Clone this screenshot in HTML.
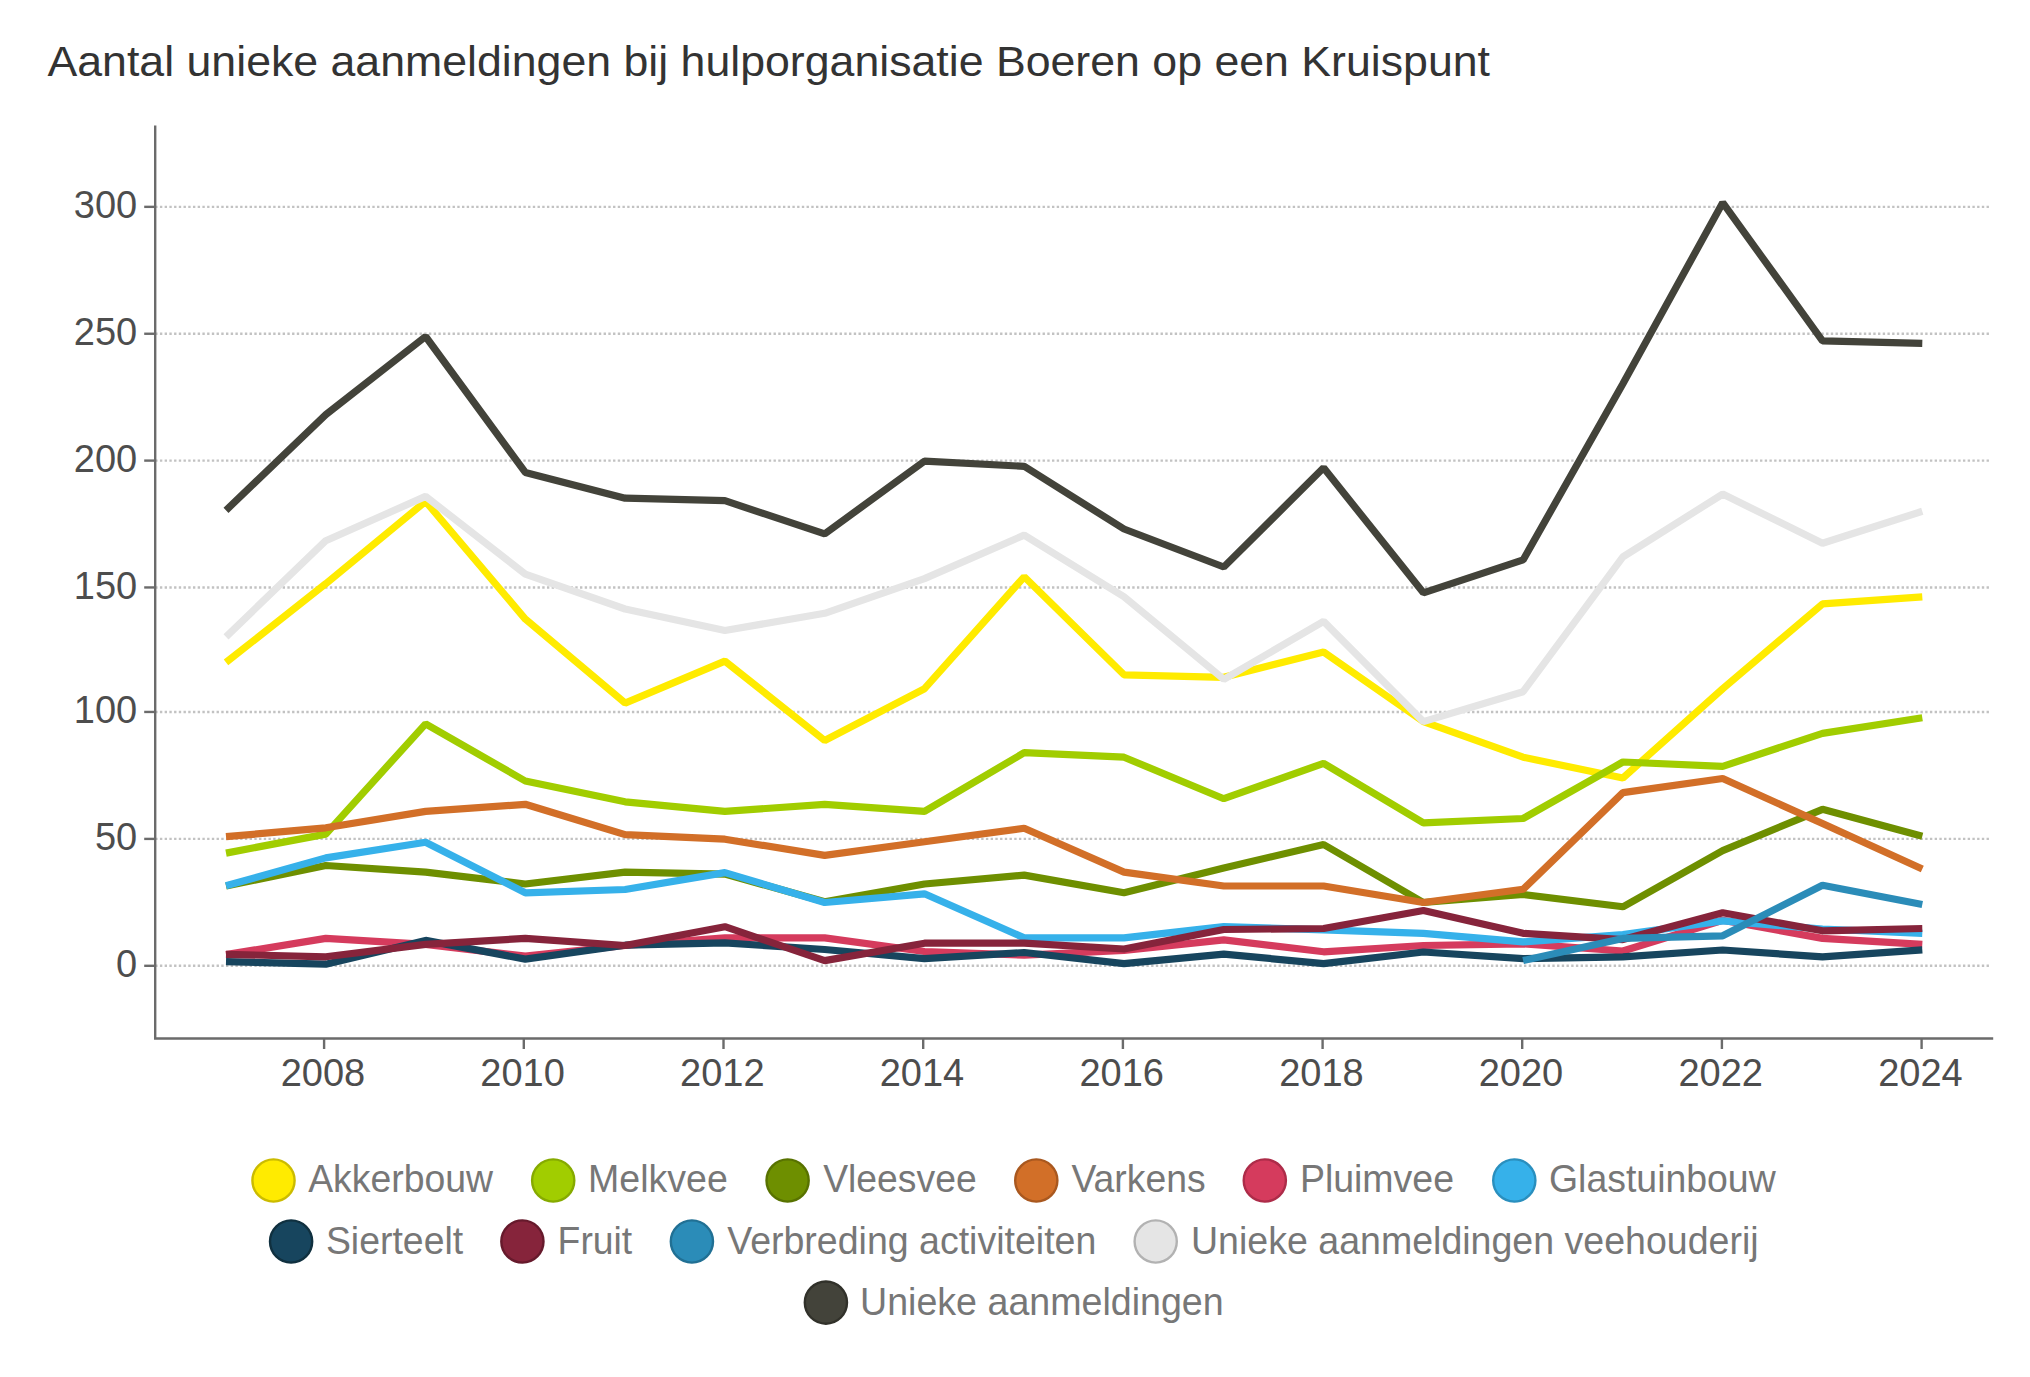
<!DOCTYPE html>
<html lang="nl"><head><meta charset="utf-8">
<title>Aantal unieke aanmeldingen bij hulporganisatie Boeren op een Kruispunt</title>
<style>
html,body{margin:0;padding:0;background:#fff;}
body{width:2030px;height:1377px;overflow:hidden;}
svg{display:block;}
text{font-family:"Liberation Sans",Arial,Helvetica,sans-serif;}
.title{font-size:42.4px;fill:#333333;}
.tick{font-size:38px;fill:#4d4d4d;}
.leg{font-size:38.5px;fill:#777777;}
.grid{stroke:#c2c2c2;stroke-width:2.4;stroke-dasharray:2.37 2.35;fill:none;}
.axis{stroke:#6b6b6b;stroke-width:2.4;fill:none;}
.ln{fill:none;stroke-linejoin:bevel;stroke-linecap:butt;}
</style></head><body>
<svg width="2030" height="1377" viewBox="0 0 2030 1377">
<rect width="2030" height="1377" fill="#ffffff"/>
<text class="title" x="47.5" y="76" textLength="1442.5" lengthAdjust="spacingAndGlyphs">Aantal unieke aanmeldingen bij hulporganisatie Boeren op een Kruispunt</text>
<line class="grid" x1="155.2" y1="965.80" x2="1990.5" y2="965.80"/>
<line class="axis" x1="144.2" y1="965.80" x2="155" y2="965.80"/>
<text class="tick" x="137.2" y="977.1" text-anchor="end">0</text>
<line class="grid" x1="155.2" y1="838.90" x2="1990.5" y2="838.90"/>
<line class="axis" x1="144.2" y1="838.90" x2="155" y2="838.90"/>
<text class="tick" x="137.2" y="850.2" text-anchor="end">50</text>
<line class="grid" x1="155.2" y1="711.95" x2="1990.5" y2="711.95"/>
<line class="axis" x1="144.2" y1="711.95" x2="155" y2="711.95"/>
<text class="tick" x="137.2" y="723.2" text-anchor="end">100</text>
<line class="grid" x1="155.2" y1="587.45" x2="1990.5" y2="587.45"/>
<line class="axis" x1="144.2" y1="587.45" x2="155" y2="587.45"/>
<text class="tick" x="137.2" y="598.8" text-anchor="end">150</text>
<line class="grid" x1="155.2" y1="460.60" x2="1990.5" y2="460.60"/>
<line class="axis" x1="144.2" y1="460.60" x2="155" y2="460.60"/>
<text class="tick" x="137.2" y="471.9" text-anchor="end">200</text>
<line class="grid" x1="155.2" y1="333.75" x2="1990.5" y2="333.75"/>
<line class="axis" x1="144.2" y1="333.75" x2="155" y2="333.75"/>
<text class="tick" x="137.2" y="345.1" text-anchor="end">250</text>
<line class="grid" x1="155.2" y1="206.85" x2="1990.5" y2="206.85"/>
<line class="axis" x1="144.2" y1="206.85" x2="155" y2="206.85"/>
<text class="tick" x="137.2" y="218.2" text-anchor="end">300</text>
<path class="axis" d="M155.2 125.5 V1038.5 H1993.2"/>
<line class="axis" x1="324.1" y1="1038.5" x2="324.1" y2="1049"/>
<text class="tick" x="322.9" y="1085.6" text-anchor="middle">2008</text>
<line class="axis" x1="523.8" y1="1038.5" x2="523.8" y2="1049"/>
<text class="tick" x="522.6" y="1085.6" text-anchor="middle">2010</text>
<line class="axis" x1="723.5" y1="1038.5" x2="723.5" y2="1049"/>
<text class="tick" x="722.3" y="1085.6" text-anchor="middle">2012</text>
<line class="axis" x1="923.2" y1="1038.5" x2="923.2" y2="1049"/>
<text class="tick" x="922.0" y="1085.6" text-anchor="middle">2014</text>
<line class="axis" x1="1122.9" y1="1038.5" x2="1122.9" y2="1049"/>
<text class="tick" x="1121.7" y="1085.6" text-anchor="middle">2016</text>
<line class="axis" x1="1322.6" y1="1038.5" x2="1322.6" y2="1049"/>
<text class="tick" x="1321.4" y="1085.6" text-anchor="middle">2018</text>
<line class="axis" x1="1522.2" y1="1038.5" x2="1522.2" y2="1049"/>
<text class="tick" x="1521.0" y="1085.6" text-anchor="middle">2020</text>
<line class="axis" x1="1721.9" y1="1038.5" x2="1721.9" y2="1049"/>
<text class="tick" x="1720.7" y="1085.6" text-anchor="middle">2022</text>
<line class="axis" x1="1921.6" y1="1038.5" x2="1921.6" y2="1049"/>
<text class="tick" x="1920.4" y="1085.6" text-anchor="middle">2024</text>
<polyline class="ln" stroke="#ffeb00" stroke-width="7.2" points="226.0,662.4 325.8,583.7 425.6,501.4 525.3,619.1 625.1,703.1 724.9,661.1 824.7,740.5 924.5,688.7 1024.2,576.8 1124.0,674.8 1223.8,677.3 1323.6,652.0 1423.4,721.6 1523.1,757.2 1622.9,778.0 1722.7,688.7 1822.5,603.9 1922.3,596.8"/>
<polyline class="ln" stroke="#a1cd00" stroke-width="7.2" points="226.0,853.1 325.8,834.1 425.6,723.8 525.3,781.0 625.1,801.8 724.9,811.4 824.7,804.3 924.5,811.4 1024.2,752.7 1124.0,757.2 1223.8,798.7 1323.6,763.3 1423.4,822.8 1523.1,818.5 1622.9,762.0 1722.7,766.3 1822.5,733.4 1922.3,717.8"/>
<polyline class="ln" stroke="#6e8f00" stroke-width="7.2" points="226.0,886.0 325.8,865.5 425.6,872.1 525.3,884.0 625.1,872.1 724.9,874.1 824.7,901.7 924.5,884.0 1024.2,875.1 1124.0,892.8 1223.8,868.0 1323.6,844.5 1423.4,902.5 1523.1,894.4 1622.9,906.8 1722.7,850.6 1822.5,809.3 1922.3,836.2"/>
<polyline class="ln" stroke="#d26f28" stroke-width="7.2" points="226.0,836.7 325.8,827.8 425.6,811.4 525.3,804.3 625.1,834.6 724.9,839.2 824.7,855.4 924.5,841.7 1024.2,828.3 1124.0,872.1 1223.8,886.0 1323.6,886.0 1423.4,902.5 1523.1,889.3 1622.9,792.6 1722.7,778.5 1822.5,823.5 1922.3,869.1"/>
<polyline class="ln" stroke="#d53b5d" stroke-width="7.2" points="226.0,954.6 325.8,938.4 425.6,944.4 525.3,956.1 625.1,945.5 724.9,937.9 824.7,937.9 924.5,951.5 1024.2,955.1 1124.0,950.5 1223.8,939.9 1323.6,951.8 1423.4,945.5 1523.1,943.9 1622.9,951.0 1722.7,920.2 1822.5,938.4 1922.3,944.4"/>
<polyline class="ln" stroke="#36b1ea" stroke-width="7.2" points="226.0,885.8 325.8,857.9 425.6,842.2 525.3,892.8 625.1,889.5 724.9,872.6 824.7,902.5 924.5,893.8 1024.2,937.9 1124.0,937.9 1223.8,926.7 1323.6,929.8 1423.4,933.3 1523.1,941.9 1622.9,934.6 1722.7,920.9 1822.5,929.0 1922.3,933.3"/>
<polyline class="ln" stroke="#17455e" stroke-width="7.2" points="226.0,961.7 325.8,964.2 425.6,940.4 525.3,959.1 625.1,945.2 724.9,942.9 824.7,949.5 924.5,958.6 1024.2,952.5 1124.0,963.7 1223.8,954.1 1323.6,963.7 1423.4,952.0 1523.1,958.6 1622.9,956.8 1722.7,950.0 1822.5,956.8 1922.3,949.8"/>
<polyline class="ln" stroke="#86243b" stroke-width="7.2" points="226.0,954.3 325.8,956.8 425.6,944.4 525.3,938.4 625.1,945.5 724.9,926.7 824.7,960.6 924.5,943.2 1024.2,943.2 1124.0,949.0 1223.8,929.5 1323.6,928.5 1423.4,910.5 1523.1,933.3 1622.9,939.6 1722.7,912.8 1822.5,930.8 1922.3,928.5"/>
<polyline class="ln" stroke="#2b8cb8" stroke-width="7.2" points="1523.1,960.6 1622.9,938.4 1722.7,935.8 1822.5,885.2 1922.3,904.5"/>
<polyline class="ln" stroke="#e5e5e5" stroke-width="7.2" points="226.0,636.8 325.8,540.7 425.6,496.4 525.3,574.1 625.1,609.0 724.9,630.5 824.7,613.3 924.5,578.6 1024.2,535.1 1124.0,596.8 1223.8,679.3 1323.6,621.4 1423.4,721.6 1523.1,691.7 1622.9,556.9 1722.7,494.1 1822.5,543.2 1922.3,511.3"/>
<polyline class="ln" stroke="#43433a" stroke-width="7.2" points="226.0,510.3 325.8,414.7 425.6,336.5 525.3,472.4 625.1,498.2 724.9,500.7 824.7,533.8 924.5,461.2 1024.2,466.3 1124.0,529.0 1223.8,567.0 1323.6,467.8 1423.4,592.8 1523.1,559.9 1622.9,383.8 1722.7,202.7 1822.5,340.8 1922.3,343.3"/>
<circle cx="273.5" cy="1180.5" r="21.1" fill="#ffeb00" stroke="#cbbb00" stroke-width="2.4"/>
<text class="leg" x="308.2" y="1192.3" textLength="184.8" lengthAdjust="spacingAndGlyphs">Akkerbouw</text>
<circle cx="553.2" cy="1180.5" r="21.1" fill="#a1cd00" stroke="#86aa00" stroke-width="2.4"/>
<text class="leg" x="588.0" y="1192.3" textLength="139.8" lengthAdjust="spacingAndGlyphs">Melkvee</text>
<circle cx="787.6" cy="1180.5" r="21.1" fill="#6e8f00" stroke="#587200" stroke-width="2.4"/>
<text class="leg" x="823.2" y="1192.3" textLength="153.5" lengthAdjust="spacingAndGlyphs">Vleesvee</text>
<circle cx="1036.3" cy="1180.5" r="21.1" fill="#d26f28" stroke="#a9581f" stroke-width="2.4"/>
<text class="leg" x="1071.4" y="1192.3" textLength="134.2" lengthAdjust="spacingAndGlyphs">Varkens</text>
<circle cx="1264.8" cy="1180.5" r="21.1" fill="#d53b5d" stroke="#ad2c49" stroke-width="2.4"/>
<text class="leg" x="1299.9" y="1192.3" textLength="154.1" lengthAdjust="spacingAndGlyphs">Pluimvee</text>
<circle cx="1514.3" cy="1180.5" r="21.1" fill="#36b1ea" stroke="#2a8fbe" stroke-width="2.4"/>
<text class="leg" x="1549.0" y="1192.3" textLength="226.7" lengthAdjust="spacingAndGlyphs">Glastuinbouw</text>
<circle cx="291.1" cy="1241.5" r="21.1" fill="#17455e" stroke="#10303f" stroke-width="2.4"/>
<text class="leg" x="325.9" y="1253.9" textLength="137.3" lengthAdjust="spacingAndGlyphs">Sierteelt</text>
<circle cx="522.4" cy="1241.5" r="21.1" fill="#86243b" stroke="#661a2c" stroke-width="2.4"/>
<text class="leg" x="557.6" y="1253.9" textLength="74.6" lengthAdjust="spacingAndGlyphs">Fruit</text>
<circle cx="691.9" cy="1241.5" r="21.1" fill="#2b8cb8" stroke="#217094" stroke-width="2.4"/>
<text class="leg" x="727.2" y="1253.9" textLength="369.1" lengthAdjust="spacingAndGlyphs">Verbreding activiteiten</text>
<circle cx="1155.7" cy="1241.5" r="21.1" fill="#e5e5e5" stroke="#b2b2b2" stroke-width="2.4"/>
<text class="leg" x="1191.0" y="1253.9" textLength="567.6" lengthAdjust="spacingAndGlyphs">Unieke aanmeldingen veehouderij</text>
<circle cx="825.9" cy="1302.6" r="21.1" fill="#43433a" stroke="#31312a" stroke-width="2.4"/>
<text class="leg" x="860.0" y="1315.0" textLength="363.7" lengthAdjust="spacingAndGlyphs">Unieke aanmeldingen</text>
</svg>
</body></html>
